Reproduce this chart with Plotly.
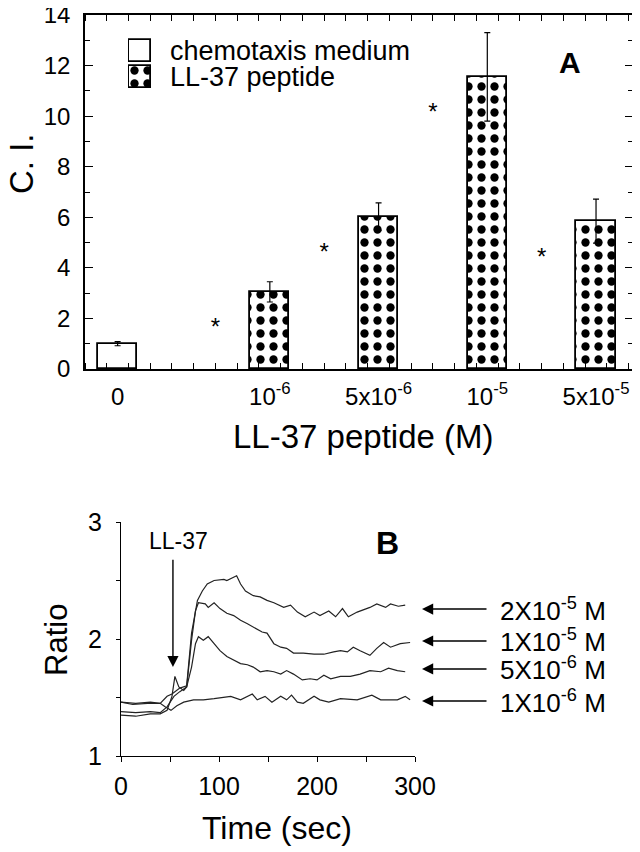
import plotly.graph_objects as go

# ---- panel A data ----
conc_labels = ["0", "10<sup>-6</sup>", "5x10<sup>-6</sup>", "10<sup>-5</sup>", "5x10<sup>-5</sup>"]
conc_pos = [1.5, 8.5, 13.5, 18.5, 23.5]
ci_mean = [1.0, 3.05, 6.02, 11.55, 5.85]
ci_err = [0.08, 0.40, 0.55, 1.75, 0.87]
star_pos = [6, 11, 16, 21]
star_y = [1.6, 4.55, 10.1, 4.37]
legend_names = ["chemotaxis medium", "LL-37 peptide"]

# ---- panel B data (ratio traces) ----
t_2e5 = [0, 15, 30, 40, 47, 52, 60, 67, 72, 78, 83, 88, 95, 105, 108, 115, 118, 122, 127, 135, 142, 149, 156,
         166, 173, 180, 188, 197, 203, 212, 219, 226, 232, 241, 254, 261, 270, 275, 283, 290]
r_2e5 = [1.46, 1.45, 1.46, 1.45, 1.51, 1.53, 1.58, 1.60, 2.05, 2.33, 2.41, 2.47, 2.50, 2.51, 2.50, 2.53, 2.54, 2.47,
         2.41, 2.37, 2.36, 2.33, 2.31, 2.27, 2.29, 2.23, 2.19, 2.23, 2.20, 2.24, 2.19, 2.26, 2.19, 2.23, 2.27,
         2.30, 2.27, 2.30, 2.28, 2.29]

t_1e5 = [0, 15, 30, 40, 47, 54, 60, 67, 72, 76, 79, 86, 89, 95, 101, 108, 115, 122, 129, 135, 144, 149, 156, 163,
         169, 176, 186, 197, 207, 217, 224, 231, 237, 244, 254, 261, 268, 275, 285, 295]
r_1e5 = [1.38, 1.37, 1.38, 1.37, 1.42, 1.51, 1.55, 1.59, 1.99, 2.24, 2.31, 2.30, 2.27, 2.31, 2.26, 2.22, 2.20, 2.16,
         2.13, 2.10, 2.06, 2.05, 1.96, 1.93, 1.92, 1.88, 1.88, 1.87, 1.87, 1.89, 1.90, 1.89, 1.93, 1.90, 1.86,
         1.92, 1.97, 1.93, 1.96, 1.97]

t_5e6 = [0, 15, 30, 40, 47, 52, 55, 59, 64, 67, 72, 76, 79, 84, 89, 95, 101, 108, 115, 122, 129, 135, 142, 149,
         156, 163, 169, 176, 185, 193, 200, 207, 214, 224, 234, 244, 254, 265, 273, 282, 290]
r_5e6 = [1.35, 1.34, 1.36, 1.36, 1.39, 1.51, 1.68, 1.59, 1.56, 1.59, 1.76, 1.96, 2.02, 1.99, 2.02, 1.96, 1.90, 1.85,
         1.82, 1.79, 1.78, 1.76, 1.72, 1.73, 1.72, 1.70, 1.73, 1.70, 1.65, 1.66, 1.65, 1.69, 1.66, 1.68, 1.68,
         1.70, 1.73, 1.72, 1.75, 1.73, 1.72]

t_1e6 = [0, 12, 27, 40, 45, 51, 57, 64, 74, 84, 95, 112, 122, 129, 134, 139, 147, 154, 163, 169, 174, 180, 186,
         197, 203, 212, 224, 241, 256, 265, 282, 290, 295]
r_1e6 = [1.46, 1.44, 1.45, 1.45, 1.42, 1.39, 1.43, 1.46, 1.48, 1.48, 1.49, 1.51, 1.48, 1.51, 1.53, 1.48, 1.51,
         1.46, 1.51, 1.48, 1.52, 1.46, 1.45, 1.51, 1.48, 1.46, 1.49, 1.48, 1.52, 1.48, 1.48, 1.51, 1.48]

trace_names = ["2X10<sup>-5</sup> M", "1X10<sup>-5</sup> M", "5X10<sup>-6</sup> M", "1X10<sup>-6</sup> M"]
trace_end = [2.256, 1.983, 1.744, 1.47]

FONT = "Liberation Sans, Arial, sans-serif"
W, H = 640, 852
OFF = 8  # page body margin around the plot div
PATTERN = dict(shape=".", fgcolor="black", bgcolor="white", fgopacity=1, size=13, solidity=0.32)


def px_x(p):
    return (p - OFF) / W


def px_y(p):
    return 1 - (p - OFF) / H


def label(text, x, y, size, angle=0, bold=False):
    return dict(text=text, x=px_x(x), y=px_y(y), xref="paper", yref="paper", showarrow=False,
                xanchor="center", yanchor="middle", textangle=angle,
                font=dict(size=size, family=FONT, color="black", weight="bold" if bold else "normal"))


fig = go.Figure()

# panel A bars
fig.add_trace(go.Bar(
    x=conc_pos[:1], y=ci_mean[:1], width=1.8, showlegend=False,
    marker=dict(color="white", line=dict(color="black", width=1.8)),
    error_y=dict(type="data", array=ci_err[:1], color="black", thickness=1.2, width=3),
    xaxis="x", yaxis="y",
))
fig.add_trace(go.Bar(
    x=conc_pos[1:], y=ci_mean[1:], width=1.8, showlegend=False,
    marker=dict(color="white", line=dict(color="black", width=1.8), pattern=PATTERN),
    error_y=dict(type="data", array=ci_err[1:], color="black", thickness=1.2, width=3),
    xaxis="x", yaxis="y",
))
fig.add_trace(go.Scatter(
    x=star_pos, y=star_y, mode="text", text=["*"] * len(star_pos),
    textfont=dict(size=24, color="black", family=FONT), showlegend=False,
    xaxis="x", yaxis="y",
))

# legend swatches (drawn on a small hidden axis so the pattern matches the bars)
fig.add_trace(go.Bar(
    y=[1], x=[1], orientation="h", width=0.88, showlegend=False,
    marker=dict(color="white", line=dict(color="black", width=1.8)),
    xaxis="x3", yaxis="y3",
))
fig.add_trace(go.Bar(
    y=[0], x=[1], orientation="h", width=0.88, showlegend=False,
    marker=dict(color="white", line=dict(color="black", width=1.8), pattern=PATTERN),
    xaxis="x3", yaxis="y3",
))

# panel B traces
for tt, rr in [(t_2e5, r_2e5), (t_1e5, r_1e5), (t_5e6, r_5e6), (t_1e6, r_1e6)]:
    fig.add_trace(go.Scatter(
        x=tt, y=rr, mode="lines", line=dict(color="#222222", width=1.2),
        showlegend=False, xaxis="x2", yaxis="y2",
    ))

annotations = [
    label("A", 570, 63, 30, bold=True),
    label("C. I.", 22, 164, 33, angle=-90),
    label("LL-37 peptide (M)", 363, 436, 33),
    label("Ratio", 56, 640, 31, angle=-90),
    label("Time (sec)", 277, 828, 32),
    dict(text="B", x=272, y=2.82, xref="x2", yref="y2", showarrow=False,
         font=dict(size=32, family=FONT, color="black", weight="bold")),
    dict(text="LL-37", x=59, y=2.84, xref="x2", yref="y2", showarrow=False,
         font=dict(size=23, family=FONT, color="black")),
    dict(text="", x=53, y=1.76, ax=53, ay=2.69, xref="x2", yref="y2", axref="x2", ayref="y2",
         showarrow=True, arrowhead=2, arrowsize=1.6, arrowwidth=1.4, arrowcolor="black"),
]
for i, name in enumerate(legend_names):
    annotations.append(dict(text=name, x=px_x(168), y=1 - i, xref="paper", yref="y3",
                            xanchor="left", yanchor="middle", showarrow=False,
                            font=dict(size=27, family=FONT, color="black")))
for name, yv in zip(trace_names, trace_end):
    annotations.append(dict(text="", x=px_x(422), y=yv, ax=66, ay=0, xref="paper", yref="y2",
                            showarrow=True, arrowhead=2,
                            arrowsize=1.6, arrowwidth=1.4, arrowcolor="black"))
    annotations.append(dict(text=name, x=px_x(498), y=yv, xref="paper", yref="y2",
                            xanchor="left", yanchor="middle", showarrow=False,
                            font=dict(size=26, family=FONT, color="black")))

fig.update_layout(
    width=W, height=H, margin=dict(l=0, r=0, t=0, b=0, autoexpand=False),
    paper_bgcolor="white", plot_bgcolor="white",
    font=dict(family=FONT, color="black"),
    barmode="overlay", bargap=0, showlegend=False,
    annotations=annotations,
    xaxis=dict(
        domain=[px_x(85), px_x(633)], range=[0, 25.2], anchor="y", automargin=False,
        tickmode="array", tickvals=conc_pos, ticktext=conc_labels, ticks="",
        tickfont=dict(size=24), ticklabelstandoff=5, ticklabeloverflow="allow",
        showline=True, linecolor="black", linewidth=1.5, mirror="ticks", showgrid=False, zeroline=False,
        minor=dict(ticks="inside", tickmode="linear", tick0=0, dtick=1, ticklen=6,
                   tickcolor="black", tickwidth=1.2, showgrid=False),
    ),
    yaxis=dict(
        domain=[px_y(369), px_y(15)], range=[0, 14], anchor="x", automargin=False,
        tickmode="linear", tick0=0, dtick=2, ticks="inside", ticklen=8, tickwidth=1.2,
        tickcolor="black", tickfont=dict(size=24), ticklabelstandoff=8, ticklabeloverflow="allow",
        showline=True, linecolor="black", linewidth=1.5, mirror="ticks", showgrid=False, zeroline=False,
        minor=dict(ticks="inside", dtick=1, ticklen=5, tickcolor="black", tickwidth=1.2, showgrid=False),
    ),
    xaxis2=dict(
        domain=[px_x(121), px_x(415)], range=[0, 300], anchor="y2", automargin=False,
        tickmode="linear", tick0=0, dtick=100, ticks="outside", ticklen=5, tickwidth=1,
        tickcolor="black", tickfont=dict(size=25), ticklabelstandoff=3, ticklabeloverflow="allow",
        showline=True, linecolor="black", linewidth=1, showgrid=False, zeroline=False,
        minor=dict(ticks="outside", dtick=50, ticklen=5, tickcolor="black", tickwidth=1, showgrid=False),
    ),
    yaxis2=dict(
        domain=[px_y(756), px_y(522)], range=[1, 3], anchor="x2", automargin=False,
        tickmode="linear", tick0=1, dtick=1, ticks="outside", ticklen=4, tickwidth=1,
        tickcolor="black", tickfont=dict(size=25), ticklabelstandoff=9, ticklabeloverflow="allow",
        showline=True, linecolor="black", linewidth=1, showgrid=False, zeroline=False,
        minor=dict(ticks="outside", dtick=0.5, ticklen=4, tickcolor="black", tickwidth=1, showgrid=False),
    ),
    xaxis3=dict(domain=[px_x(128), px_x(152)], range=[-0.06, 1.06], anchor="y3", visible=False,
                fixedrange=True),
    yaxis3=dict(domain=[px_y(90), px_y(38)], range=[-0.5, 1.5], anchor="x3", visible=False,
                fixedrange=True),
)

fig.write_html("out.html")
